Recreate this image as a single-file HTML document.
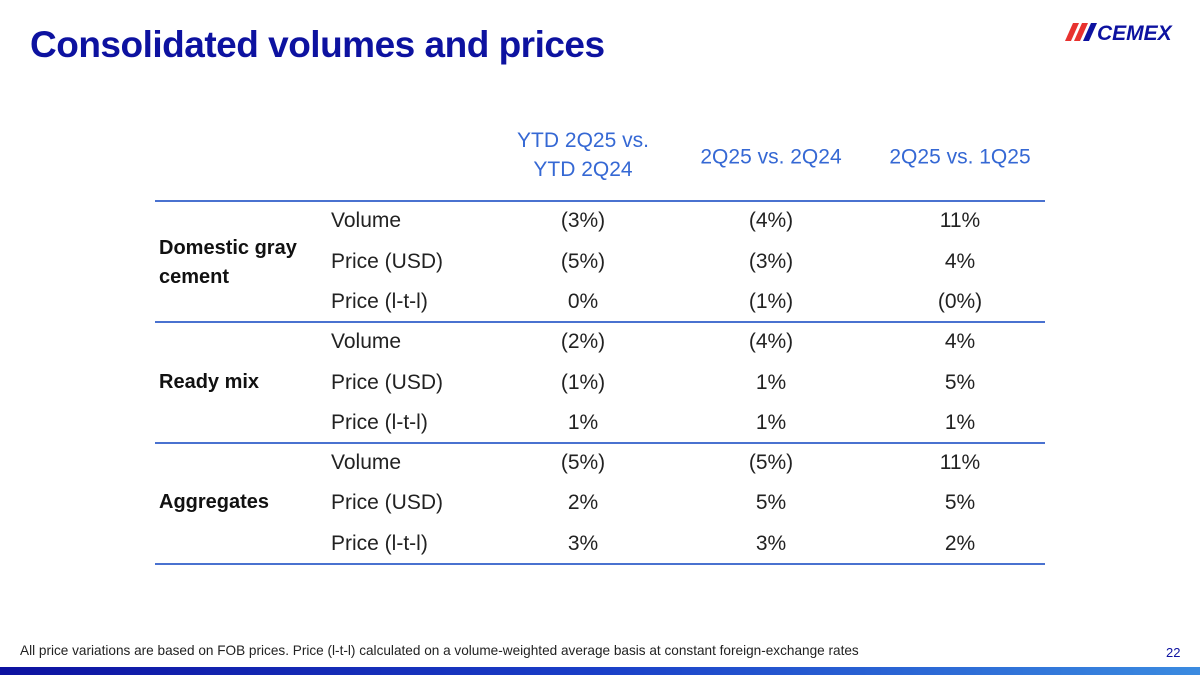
<!DOCTYPE html>
<html><head><meta charset="utf-8"><style>
body{margin:0;width:1200px;height:675px;position:relative;background:#fff;font-family:"Liberation Sans",sans-serif;overflow:hidden;color:#222}
.a{position:absolute;white-space:nowrap}
.t{font-size:21px;transform:translate(-50%,-50%)}
.l{font-size:21px;transform:translateY(-50%)}
.g{font-size:20px;font-weight:bold;color:#111}
.h{font-size:21px;color:#3568d4;text-align:center;transform:translate(-50%,-50%);line-height:29px}
.rule{position:absolute;left:155px;width:890px;height:2px;background:#4a72d0}
</style></head><body>
<div class="a" style="left:30px;top:24px;font-size:37px;font-weight:bold;color:#0d12a0;letter-spacing:-0.5px">Consolidated volumes and prices</div>
<div class="a" style="left:1065px;top:20px;height:24px;width:115px">
<svg width="115" height="24" viewBox="0 0 115 24"><polygon points="8,3 14,3 6,21 0,21" fill="#e8322f"/><polygon points="17,3 23,3 15,21 9,21" fill="#e8322f"/><polygon points="26,3 32,3 24,21 18,21" fill="#0d12a0"/><text x="32" y="20" font-family="Liberation Sans" font-weight="bold" font-style="italic" font-size="21" fill="#0d12a0">CEMEX</text></svg></div>

<div class="a h" style="left:583px;top:155px">YTD 2Q25 vs.<br>YTD 2Q24</div>
<div class="a h" style="left:771px;top:157px">2Q25 vs. 2Q24</div>
<div class="a h" style="left:960px;top:157px">2Q25 vs. 1Q25</div>

<div class="rule" style="top:200px"></div>
<div class="rule" style="top:321px"></div>
<div class="rule" style="top:442px"></div>
<div class="rule" style="top:563px"></div>

<div class="a g" style="left:159px;top:234px;line-height:29px">Domestic gray<br>cement</div>
<div class="a g" style="left:159px;top:371px">Ready mix</div>
<div class="a g" style="left:159px;top:491px">Aggregates</div>

<div class="a" style="left:20px;top:643px;font-size:13.6px;color:#222">All price variations are based on FOB prices. Price (l-t-l) calculated on a volume-weighted average basis at constant foreign-exchange rates</div>
<div class="a" style="left:1166px;top:645px;font-size:13px;color:#0d12a0">22</div>
<div class="a" style="left:0;top:667px;width:1200px;height:8px;background:linear-gradient(90deg,#0d12a0,#1a3fc8 50%,#3b8be0)"></div>

<div>
<div class="a l" style="left:331px;top:221px">Volume</div>
<div class="a t" style="left:583px;top:221px">(3%)</div>
<div class="a t" style="left:771px;top:221px">(4%)</div>
<div class="a t" style="left:960px;top:221px">11%</div>
<div class="a l" style="left:331px;top:262px">Price (USD)</div>
<div class="a t" style="left:583px;top:262px">(5%)</div>
<div class="a t" style="left:771px;top:262px">(3%)</div>
<div class="a t" style="left:960px;top:262px">4%</div>
<div class="a l" style="left:331px;top:302px">Price (l-t-l)</div>
<div class="a t" style="left:583px;top:302px">0%</div>
<div class="a t" style="left:771px;top:302px">(1%)</div>
<div class="a t" style="left:960px;top:302px">(0%)</div>

<div class="a l" style="left:331px;top:342px">Volume</div>
<div class="a t" style="left:583px;top:342px">(2%)</div>
<div class="a t" style="left:771px;top:342px">(4%)</div>
<div class="a t" style="left:960px;top:342px">4%</div>
<div class="a l" style="left:331px;top:383px">Price (USD)</div>
<div class="a t" style="left:583px;top:383px">(1%)</div>
<div class="a t" style="left:771px;top:383px">1%</div>
<div class="a t" style="left:960px;top:383px">5%</div>
<div class="a l" style="left:331px;top:423px">Price (l-t-l)</div>
<div class="a t" style="left:583px;top:423px">1%</div>
<div class="a t" style="left:771px;top:423px">1%</div>
<div class="a t" style="left:960px;top:423px">1%</div>

<div class="a l" style="left:331px;top:463px">Volume</div>
<div class="a t" style="left:583px;top:463px">(5%)</div>
<div class="a t" style="left:771px;top:463px">(5%)</div>
<div class="a t" style="left:960px;top:463px">11%</div>
<div class="a l" style="left:331px;top:503px">Price (USD)</div>
<div class="a t" style="left:583px;top:503px">2%</div>
<div class="a t" style="left:771px;top:503px">5%</div>
<div class="a t" style="left:960px;top:503px">5%</div>
<div class="a l" style="left:331px;top:544px">Price (l-t-l)</div>
<div class="a t" style="left:583px;top:544px">3%</div>
<div class="a t" style="left:771px;top:544px">3%</div>
<div class="a t" style="left:960px;top:544px">2%</div>
</div>
</body></html>
